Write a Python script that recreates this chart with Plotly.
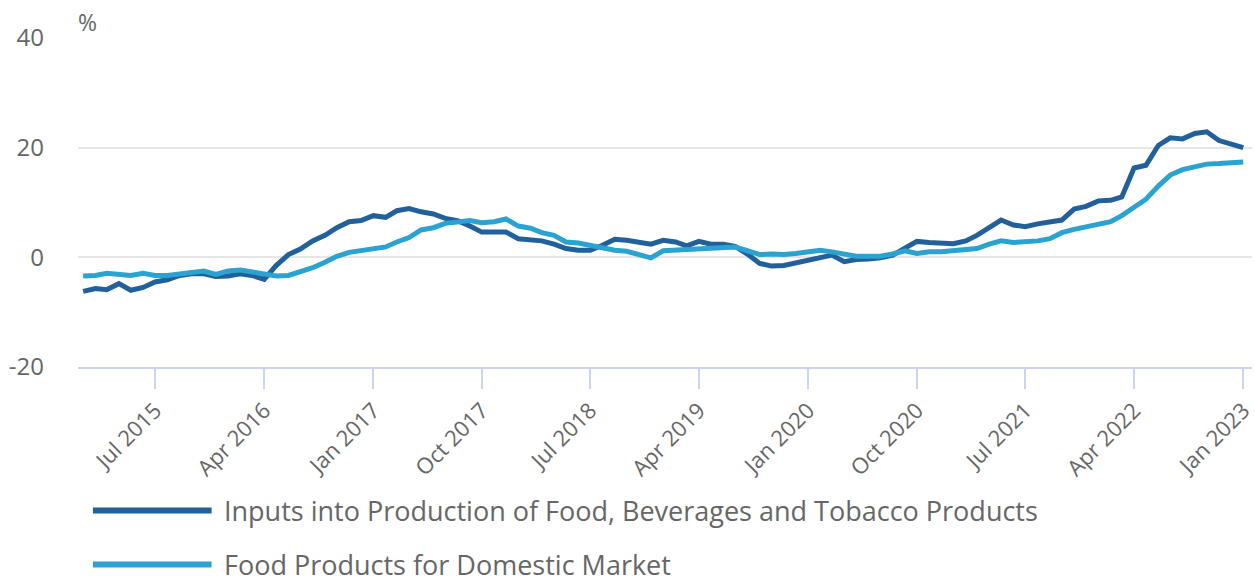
import pandas as pd
import plotly.graph_objects as go

# Monthly observations, Jan 2015 .. Jan 2023
months = pd.date_range("2015-01-01", "2023-01-01", freq="MS")

inputs_food_bev_tobacco = [
    -6.2, -5.7, -5.9, -4.8, -6.0, -5.5, -4.5, -4.1, -3.3, -3.0, -3.0, -3.5,   # 2015
    -3.4, -3.0, -3.3, -4.0, -1.5, 0.5, 1.5, 3.0, 4.0, 5.4, 6.5, 6.7,          # 2016
    7.6, 7.3, 8.5, 8.9, 8.3, 7.9, 7.1, 6.7, 5.7, 4.6, 4.6, 4.6,              # 2017
    3.4, 3.2, 3.0, 2.4, 1.6, 1.3, 1.3, 2.2, 3.3, 3.1, 2.7, 2.4,              # 2018
    3.1, 2.8, 2.1, 2.9, 2.4, 2.4, 2.0, 0.6, -1.1, -1.6, -1.5, -1.0,          # 2019
    -0.4, 0.1, 0.4, -0.8, -0.4, -0.3, -0.1, 0.4, 1.6, 2.9, 2.7, 2.7,         # 2020
    2.5, 3.0, 4.0, 5.4, 6.8, 5.9, 5.6, 6.1, 6.4, 6.8, 8.8, 9.3,              # 2021
    10.3, 10.4, 11.0, 16.3, 16.8, 20.4, 21.8, 21.6, 22.6, 22.9, 21.3, 20.6,  # 2022
    20.0,                                                                    # 2023
]

food_domestic_market = [
    -3.4, -3.3, -2.9, -3.1, -3.3, -2.9, -3.3, -3.3, -3.1, -2.7, -2.5, -3.1,  # 2015
    -2.5, -2.3, -2.7, -3.1, -3.4, -3.3, -2.7, -1.9, -0.9, 0.2, 0.9, 1.3,     # 2016
    1.6, 1.9, 2.8, 3.6, 5.0, 5.4, 6.2, 6.5, 6.7, 6.3, 6.5, 7.0,              # 2017
    5.7, 5.3, 4.5, 4.0, 2.8, 2.6, 2.1, 1.6, 1.3, 1.1, 0.5, -0.1,             # 2018
    1.2, 1.3, 1.5, 1.6, 1.8, 1.9, 1.9, 1.2, 0.5, 0.6, 0.5, 0.7,              # 2019
    1.0, 1.3, 1.0, 0.5, 0.2, 0.2, 0.2, 0.6, 1.2, 0.7, 1.0, 1.0,              # 2020
    1.2, 1.5, 1.6, 2.4, 3.0, 2.7, 2.8, 3.0, 3.4, 4.5, 5.1, 5.6,              # 2021
    6.2, 6.5, 7.6, 9.1, 10.6, 13.0, 15.0, 16.0, 16.6, 17.0, 17.1, 17.2,      # 2022
    17.4,                                                                    # 2023
]

series_names = [
    "Inputs into Production of Food, Beverages and Tobacco Products",
    "Food Products for Domestic Market",
]
series_colors = ["#21609a", "#2aa3d0"]

tick_dates = ["2015-07-01", "2016-04-01", "2017-01-01", "2017-10-01", "2018-07-01",
              "2019-04-01", "2020-01-01", "2020-10-01", "2021-07-01", "2022-04-01",
              "2023-01-01"]
tick_labels = ["Jul 2015", "Apr 2016", "Jan 2017", "Oct 2017", "Jul 2018",
               "Apr 2019", "Jan 2020", "Oct 2020", "Jul 2021", "Apr 2022",
               "Jan 2023"]
y_ticks = [-20, 0, 20, 40]
y_tick_labels = ["-20", "0", "20", "40"]

FONT = "Open Sans"
GREY = "#666666"
AXIS = "#ccd6eb"

fig = go.Figure()
for name, vals, col in zip(series_names,
                           [inputs_food_bev_tobacco, food_domestic_market],
                           series_colors):
    fig.add_trace(go.Scatter(
        x=months, y=vals, mode="lines", name=name,
        line=dict(color=col, width=5, shape="linear"),
        showlegend=False,
    ))

# Legend below the plot area, with long line keys
legend_rows_y = [-0.436, -0.600]
for name, col, yy in zip(series_names, series_colors, legend_rows_y):
    fig.add_shape(type="line", xref="paper", yref="paper",
                  x0=0.0127, x1=0.1138, y0=yy, y1=yy,
                  line=dict(color=col, width=6))
    fig.add_annotation(xref="paper", yref="paper", x=0.1224, y=yy,
                       xanchor="left", yanchor="middle", showarrow=False,
                       text=name, font=dict(family=FONT, size=27, color=GREY))

# Unit label above the value axis
fig.add_annotation(xref="paper", yref="paper", x=-0.002, y=1.05,
                   xanchor="left", yanchor="middle", showarrow=False,
                   text="%", font=dict(family=FONT, size=23, color=GREY))

fig.update_layout(
    width=1255, height=578,
    margin=dict(l=78, r=0, t=38, b=211, pad=0),
    plot_bgcolor="white", paper_bgcolor="white",
    font=dict(family=FONT, color=GREY),
    showlegend=False,
)
fig.update_xaxes(
    range=["2014-12-19", "2023-01-23"],
    tickmode="array", tickvals=tick_dates, ticktext=tick_labels,
    tickangle=-45, tickfont=dict(family=FONT, size=22, color=GREY),
    ticklabeloverflow="allow",
    ticks="outside", ticklen=20, tickwidth=2, tickcolor=AXIS,
    showline=True, linecolor=AXIS, linewidth=2,
    showgrid=False, zeroline=False,
)
fig.update_yaxes(
    range=[-20, 40], tickmode="array", tickvals=y_ticks, ticktext=y_tick_labels,
    tickfont=dict(family=FONT, size=24, color=GREY),
    ticklabelstandoff=33,
    showgrid=True, gridcolor="#e6e6e6", gridwidth=2,
    zeroline=False, showline=False, ticks="",
)

fig.write_html("out.html")
